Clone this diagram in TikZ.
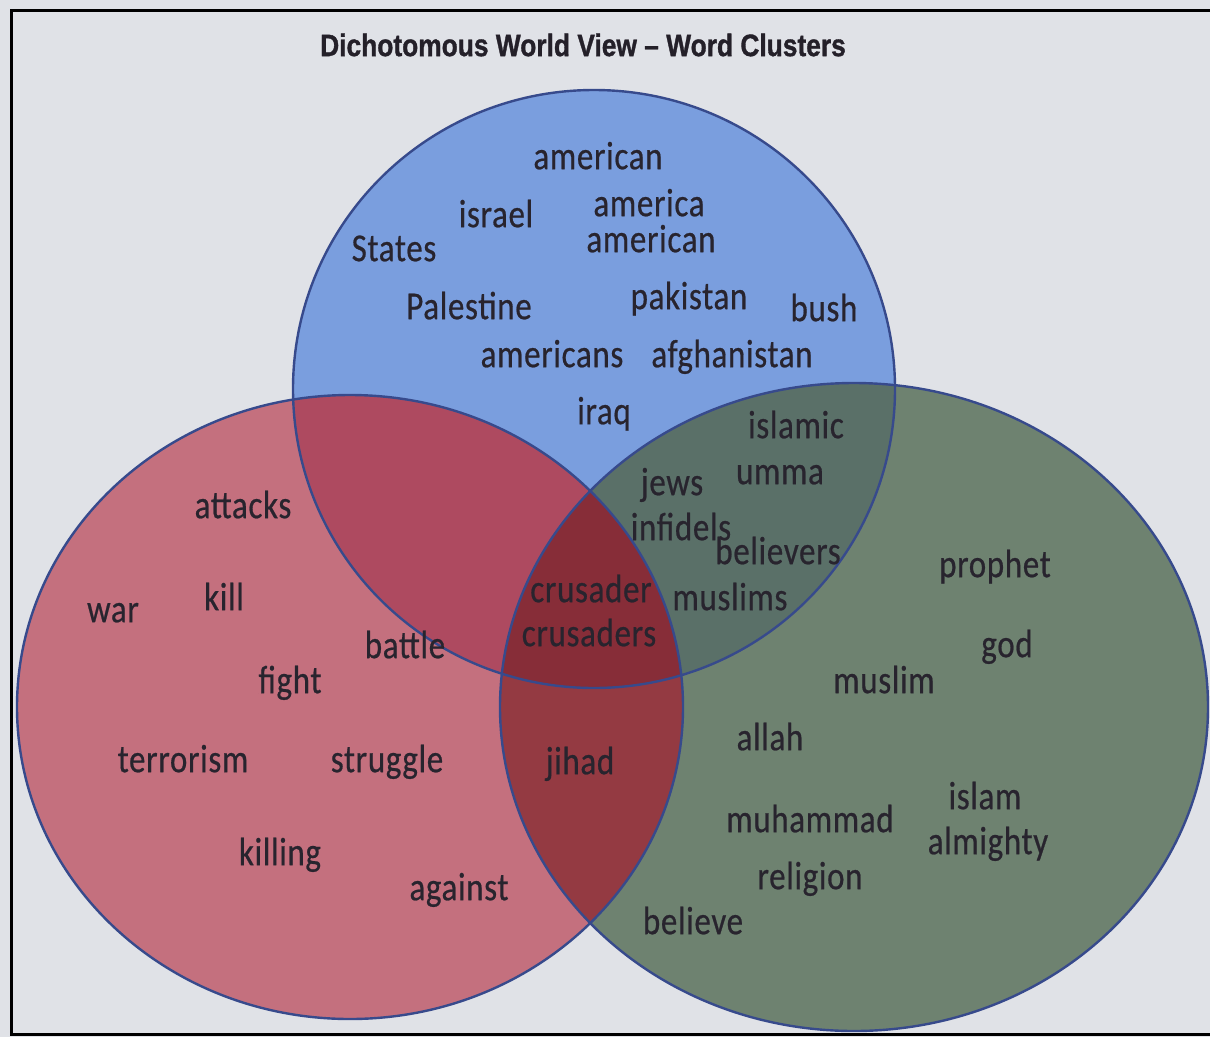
\documentclass[tikz,border=0pt]{standalone}
\usepackage{fontspec}
\newfontfamily\wordfont[FakeBold=0.6,LetterSpace=2]{Carlito}
\newfontfamily\titlefont[FakeBold=1.2]{Liberation Sans}
\definecolor{bgc}{RGB}{224,226,231}
\definecolor{cB}{RGB}{122,158,222}
\definecolor{cR}{RGB}{196,112,126}
\definecolor{cG}{RGB}{110,130,112}
\definecolor{cBR}{RGB}{174,74,96}
\definecolor{cBG}{RGB}{90,112,104}
\definecolor{cRG}{RGB}{148,58,66}
\definecolor{cBRG}{RGB}{135,45,56}
\definecolor{outl}{RGB}{55,74,140}
\definecolor{txt}{RGB}{40,36,46}
\newcommand\wtext[1]{\scalebox{1}[1.2]{#1}}
\def\pB{(594,389) ellipse [x radius=301pt, y radius=299pt]}
\def\pR{(350,707) ellipse [x radius=333pt, y radius=312pt]}
\def\pG{(854,707) ellipse [x radius=354pt, y radius=324pt]}
\begin{document}
\begin{tikzpicture}[x=1pt,y=-1pt,
  word/.style={font=\wordfont\fontsize{33}{40}\selectfont, text=txt, anchor=mid, inner sep=0pt},
  ttl/.style={font=\titlefont\bfseries\fontsize{31}{36}\selectfont, text=txt!90!black, inner sep=0pt}]
\useasboundingbox (0,0) rectangle (1210,1037);
\fill[bgc] (0,0) rectangle (1210,1037);
\draw[black, line width=3pt] (11,10) rectangle (1222,1034);
% regions
\fill[cB] \pB;
\fill[cR] \pR;
\fill[cG] \pG;
\begin{scope}\clip \pB; \fill[cBR] \pR; \end{scope}
\begin{scope}\clip \pB; \fill[cBG] \pG; \end{scope}
\begin{scope}\clip \pR; \fill[cRG] \pG; \end{scope}
\begin{scope}\clip \pB; \clip \pR; \fill[cBRG] \pG; \end{scope}
\draw[outl, line width=2.4pt] \pB;
\draw[outl, line width=2.4pt] \pR;
\draw[outl, line width=2.4pt] \pG;
% title
\node[ttl] (title) at (583,45) {\scalebox{0.85}[1]{Dichotomous World View – Word Clusters}};
% words
\begin{scope}[yshift=-10pt]
% blue
\node[word] (american1) at (598,157) {\wtext{american}};
\node[word] (israel) at (496,215) {\wtext{israel}};
\node[word] (america) at (649,204) {\wtext{america}};
\node[word] (states) at (394,249) {\wtext{States}};
\node[word] (american2) at (651,240) {\wtext{american}};
\node[word] (palestine) at (469,307) {\wtext{Palestine}};
\node[word] (pakistan) at (689,297) {\wtext{pakistan}};
\node[word] (bush) at (824,309) {\wtext{bush}};
\node[word] (americans) at (552,355) {\wtext{americans}};
\node[word] (afghanistan) at (732,355) {\wtext{afghanistan}};
\node[word] (iraq) at (604,412) {\wtext{iraq}};
% blue-green
\node[word] (islamic) at (796,426) {\wtext{islamic}};
\node[word] (umma) at (780,472) {\wtext{umma}};
\node[word] (jews) at (672,483) {\wtext{jews}};
\node[word] (infidels) at (681,528) {\wtext{infidels}};
\node[word] (believers) at (778,552) {\wtext{believers}};
\node[word] (muslims) at (730,598) {\wtext{muslims}};
% triple
\node[word] (crusader) at (591,590) {\wtext{crusader}};
\node[word] (crusaders) at (589,634) {\wtext{crusaders}};
% red
\node[word] (attacks) at (243,506) {\wtext{attacks}};
\node[word] (war) at (113,610) {\wtext{war}};
\node[word] (kill) at (224,598) {\wtext{kill}};
\node[word] (battle) at (405,646) {\wtext{battle}};
\node[word] (fight) at (290,681) {\wtext{fight}};
\node[word] (terrorism) at (183,760) {\wtext{terrorism}};
\node[word] (struggle) at (387,760) {\wtext{struggle}};
\node[word] (killing) at (280,853) {\wtext{killing}};
\node[word] (against) at (459,888) {\wtext{against}};
% red-green
\node[word] (jihad) at (580,762) {\wtext{jihad}};
% green
\node[word] (prophet) at (995,565) {\wtext{prophet}};
\node[word] (god) at (1007,645) {\wtext{god}};
\node[word] (muslim) at (884,681) {\wtext{muslim}};
\node[word] (allah) at (770,738) {\wtext{allah}};
\node[word] (islam) at (985,797) {\wtext{islam}};
\node[word] (muhammad) at (810,820) {\wtext{muhammad}};
\node[word] (almighty) at (988,842) {\wtext{almighty}};
\node[word] (religion) at (810,877) {\wtext{religion}};
\node[word] (believe) at (693,922) {\wtext{believe}};
\end{scope}
\end{tikzpicture}
\end{document}
